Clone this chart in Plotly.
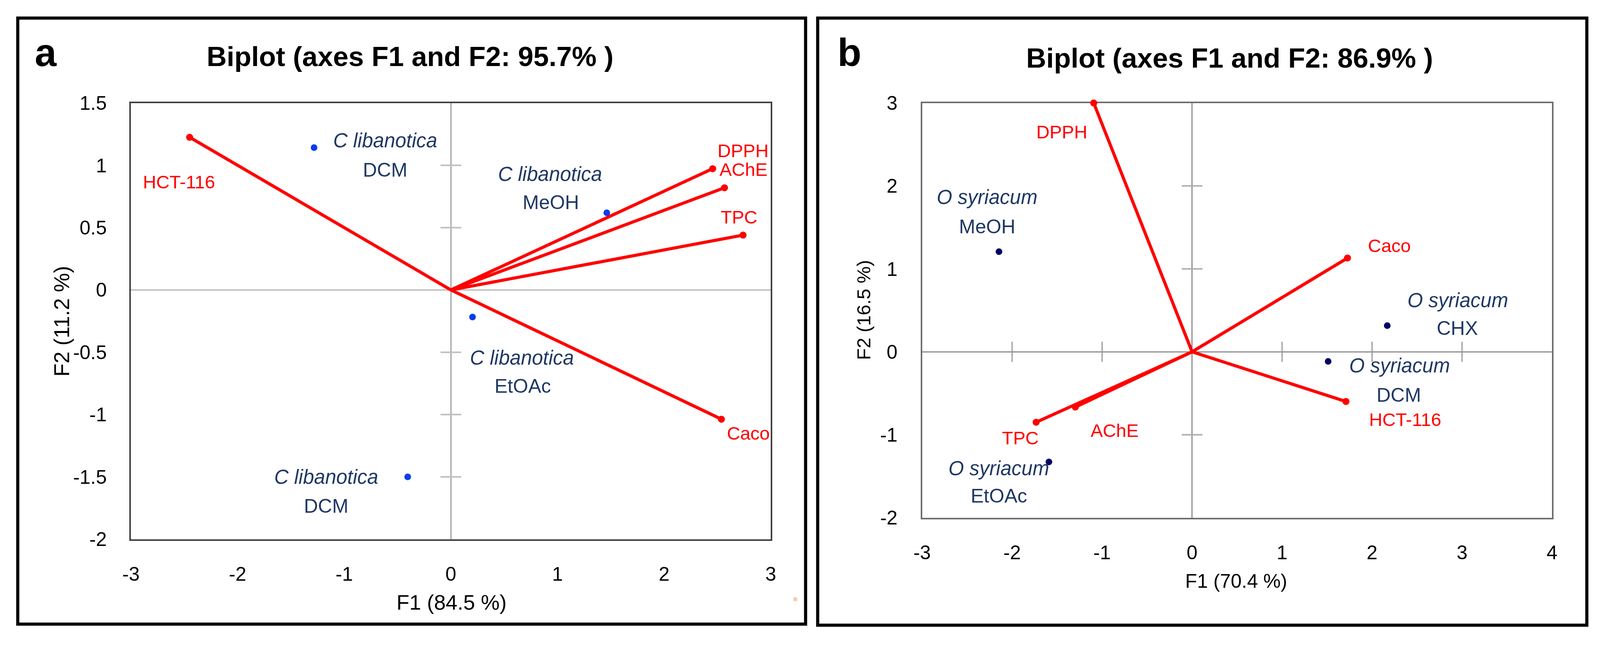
import plotly.graph_objects as go

# ---------------- data: panel a ----------------
a_vars = ["DPPH", "AChE", "TPC", "Caco", "HCT-116"]
a_var_f1 = [2.455, 2.566, 2.740, 2.537, -2.450]
a_var_f2 = [0.973, 0.820, 0.440, -1.037, 1.225]
a_species = ["C libanotica", "C libanotica", "C libanotica", "C libanotica"]
a_solvents = ["DCM", "MeOH", "EtOAc", "DCM"]
a_obs_f1 = [-1.283, 1.462, 0.203, -0.405]
a_obs_f2 = [1.142, 0.619, -0.217, -1.500]
a_xticks = [-3, -2, -1, 0, 1, 2, 3]
a_xticklabels = ["-3", "-2", "-1", "0", "1", "2", "3"]
a_yticks = [-2, -1.5, -1, -0.5, 0, 0.5, 1, 1.5]
a_yticklabels = ["-2", "-1.5", "-1", "-0.5", "0", "0.5", "1", "1.5"]
a_title = "Biplot (axes F1 and F2: 95.7% )"
a_xtitle = "F1 (84.5 %)"
a_ytitle = "F2 (11.2 %)"

# ---------------- data: panel b ----------------
b_vars = ["DPPH", "Caco", "HCT-116", "TPC", "AChE"]
b_var_f1 = [-1.093, 1.727, 1.710, -1.733, -1.297]
b_var_f2 = [3.000, 1.131, -0.599, -0.849, -0.666]
b_species = ["O syriacum", "O syriacum", "O syriacum", "O syriacum"]
b_solvents = ["MeOH", "CHX", "DCM", "EtOAc"]
b_obs_f1 = [-2.146, 2.169, 1.512, -1.591]
b_obs_f2 = [1.208, 0.316, -0.115, -1.328]
b_xticks = [-3, -2, -1, 0, 1, 2, 3, 4]
b_xticklabels = ["-3", "-2", "-1", "0", "1", "2", "3", "4"]
b_yticks = [-2, -1, 0, 1, 2, 3]
b_yticklabels = ["-2", "-1", "0", "1", "2", "3"]
b_title = "Biplot (axes F1 and F2: 86.9% )"
b_xtitle = "F1 (70.4 %)"
b_ytitle = "F2 (16.5 %)"

# ---------------- layout helpers ----------------
REF_W, REF_H = 4328, 1653          # reference design grid
W, H = 4096, 1653                  # actual browser viewport
K = W / REF_W                      # horizontal pixel scale

# label placement (design-pixel offsets from the point: dx right, dy up)
a_var_off = {"DPPH": (83, 46), "AChE": (52, 47), "TPC": (-11, 46), "Caco": (73, -36), "HCT-116": (-29, -114)}
a_obs_off = [((192, 18), (192, -57)), ((-154, 99), (-152, 27)), ((133, -104), (136, -177)), ((-220, 0), (-220, -75))]
b_var_off = {"DPPH": (-86, -74), "Caco": (114, 32), "HCT-116": (160, -46), "TPC": (-43, -40), "AChE": (106, -60)}
b_obs_off = [((-32, 139), (-32, 64)), ((191, 65), (190, -7)), ((193, -11), (191, -86)), ((-135, -16), (-135, -87))]

FONT = "Liberation Sans, Arial, sans-serif"
RED = "#FF0000"
NAVY_TXT = "#1F3864"


def px(x):
    return x / REF_W


def py(y):
    return 1 - y / REF_H


fig = go.Figure()
annotations = []


def add_panel(xa, ya, vars_, vf1, vf2, species, solvents, of1, of2, var_off, obs_off,
              dot_color, vtick_y, htick_x, vtick_color):
    if vtick_y:
        fig.add_trace(go.Scatter(x=[0] * len(vtick_y), y=vtick_y, mode="markers", xaxis=xa, yaxis=ya,
                                 marker=dict(symbol="line-ew", size=40 * K, line=dict(width=4, color=vtick_color)),
                                 hoverinfo="skip", showlegend=False, cliponaxis=False))
    if htick_x:
        fig.add_trace(go.Scatter(x=htick_x, y=[0] * len(htick_x), mode="markers", xaxis=xa, yaxis=ya,
                                 marker=dict(symbol="line-ns", size=37, line=dict(width=3, color="#9A9A9A")),
                                 hoverinfo="skip", showlegend=False, cliponaxis=False))
    for v, x, y in zip(vars_, vf1, vf2):
        fig.add_trace(go.Scatter(x=[0, x], y=[0, y], mode="lines", xaxis=xa, yaxis=ya,
                                 line=dict(color=RED, width=8), hoverinfo="skip", showlegend=False,
                                 cliponaxis=False))
    fig.add_trace(go.Scatter(x=vf1, y=vf2, mode="markers", xaxis=xa, yaxis=ya,
                             marker=dict(color=RED, size=18), hoverinfo="skip", showlegend=False,
                             cliponaxis=False))
    fig.add_trace(go.Scatter(x=of1, y=of2, mode="markers", xaxis=xa, yaxis=ya,
                             marker=dict(color=dot_color, size=17), hoverinfo="skip", showlegend=False,
                             cliponaxis=False))
    for v, x, y in zip(vars_, vf1, vf2):
        dx, dy = var_off[v]
        annotations.append(dict(x=x, y=y, xref=xa, yref=ya, text=v, showarrow=False,
                                xshift=dx * K, yshift=dy, xanchor="center", yanchor="middle",
                                font=dict(family=FONT, size=47, color=RED)))
    for sp, sv, x, y, (o1, o2) in zip(species, solvents, of1, of2, obs_off):
        annotations.append(dict(x=x, y=y, xref=xa, yref=ya, text="<i>" + sp + "</i>", showarrow=False,
                                xshift=o1[0] * K, yshift=o1[1], xanchor="center", yanchor="middle",
                                font=dict(family=FONT, size=51, color=NAVY_TXT)))
        annotations.append(dict(x=x, y=y, xref=xa, yref=ya, text=sv, showarrow=False,
                                xshift=o2[0] * K, yshift=o2[1], xanchor="center", yanchor="middle",
                                font=dict(family=FONT, size=50, color=NAVY_TXT)))


add_panel("x", "y", a_vars, a_var_f1, a_var_f2, a_species, a_solvents, a_obs_f1, a_obs_f2,
          a_var_off, a_obs_off, "#0A3CF0",
          [t for t in a_yticks if t not in (0, a_yticks[0], a_yticks[-1])], [], "#BFBFBF")
add_panel("x2", "y2", b_vars, b_var_f1, b_var_f2, b_species, b_solvents, b_obs_f1, b_obs_f2,
          b_var_off, b_obs_off, "#000066",
          [t for t in b_yticks if t not in (0, b_yticks[0], b_yticks[-1])],
          [t for t in b_xticks if t not in (0, b_xticks[0], b_xticks[-1])], "#B0B0B0")

a_xdom = [px(334), px(2080)]
a_ydom = [py(1400), py(244)]
b_xdom = [px(2493), px(4212)]
b_ydom = [py(1343), py(244)]

common = dict(showgrid=False, showline=True, mirror=True, linewidth=4,
              ticks="", layer="below traces",
              tickfont=dict(family=FONT, size=50, color="black"), zeroline=True)

fig.update_layout(
    width=W, height=H, margin=dict(l=0, r=0, t=0, b=0),
    paper_bgcolor="white", plot_bgcolor="white", showlegend=False,
    xaxis=dict(domain=a_xdom, range=[-3, 3], tickmode="array", tickvals=a_xticks, ticktext=a_xticklabels,
               anchor="y", linecolor="#404040", zerolinecolor="#A0A0A0", zerolinewidth=2.5,
               ticklabelstandoff=42, **common),
    yaxis=dict(domain=a_ydom, range=[-2, 1.5], tickmode="array", tickvals=a_yticks, ticktext=a_yticklabels,
               anchor="x", linecolor="#404040", zerolinecolor="#C4C4C4", zerolinewidth=4,
               ticklabelstandoff=48, **common),
    xaxis2=dict(domain=b_xdom, range=[-3, 4], tickmode="array", tickvals=b_xticks, ticktext=b_xticklabels,
                anchor="y2", linecolor="#6E6E6E", zerolinecolor="#8E8E8E", zerolinewidth=3,
                ticklabelstandoff=42, **common),
    yaxis2=dict(domain=b_ydom, range=[-2, 3], tickmode="array", tickvals=b_yticks, ticktext=b_yticklabels,
                anchor="x2", linecolor="#6E6E6E", zerolinecolor="#8E8E8E", zerolinewidth=3,
                ticklabelstandoff=49, **common),
)

txt = [
    dict(x=px(1096), y=py(121), text="<b>" + a_title + "</b>", font=dict(family=FONT, size=71, color="black")),
    dict(x=px(3332), y=py(125), text="<b>" + b_title + "</b>", font=dict(family=FONT, size=71, color="black")),
    dict(x=px(102), y=py(110), text="<b>a</b>", font=dict(family=FONT, size=100, color="black")),
    dict(x=px(2295), y=py(110), text="<b>b</b>", font=dict(family=FONT, size=100, color="black")),
    dict(x=px(1209), y=py(1567), text=a_xtitle, font=dict(family=FONT, size=54, color="black")),
    dict(x=px(145), y=py(823), text=a_ytitle, textangle=-90, font=dict(family=FONT, size=55, color="black")),
    dict(x=px(3350), y=py(1511), text=b_xtitle, font=dict(family=FONT, size=50, color="black")),
    dict(x=px(2333), y=py(793), text=b_ytitle, textangle=-90, font=dict(family=FONT, size=49, color="black")),
]
for t in txt:
    t.update(xref="paper", yref="paper", showarrow=False, xanchor="center", yanchor="middle")
    annotations.append(t)

fig.update_layout(annotations=annotations)

fig.add_shape(type="rect", xref="paper", yref="paper", x0=px(25), x1=px(2175), y0=py(1625), y1=py(19),
              line=dict(color="black", width=8))
fig.add_shape(type="rect", xref="paper", yref="paper", x0=px(2208), x1=px(4307), y0=py(1628), y1=py(19),
              line=dict(color="black", width=8))
fig.add_shape(type="rect", xref="paper", yref="paper", x0=px(2142), x1=px(2152), y0=py(1564), y1=py(1554),
              line=dict(width=0), fillcolor="#F8C8A8")

post = "document.body.style.margin='0';document.body.style.overflow='hidden';"
fig.write_html("out.html", post_script=post, config={"displayModeBar": False})
